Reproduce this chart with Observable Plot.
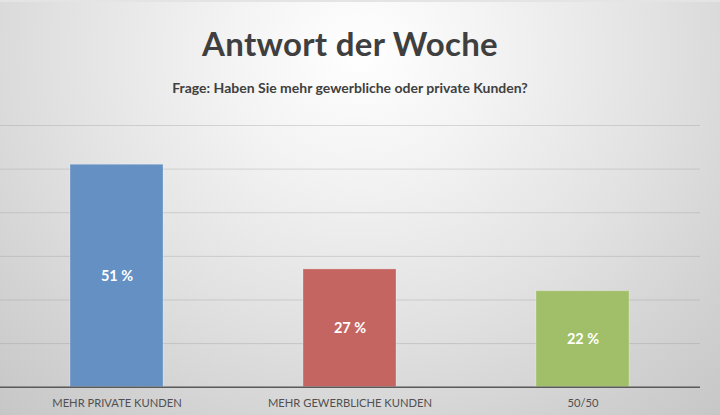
<!DOCTYPE html>
<html>
<head>
<meta charset="utf-8">
<script src="https://cdn.jsdelivr.net/npm/d3@7"></script>
<script src="https://cdn.jsdelivr.net/npm/@observablehq/plot@0.6"></script>
<style>
  html, body { margin: 0; padding: 0; }
  body { width: 720px; height: 415px; overflow: hidden; }
  #wrap {
    position: relative; width: 720px; height: 415px; box-sizing: border-box;
    background: radial-gradient(ellipse 75% 120% at 50% 12%, #ffffff 0%, #f3f3f3 25%, #e2e2e2 55%, #d2d2d2 80%, #c6c6c6 100%);
    border-top: 2px solid #e4e4e4;
    font-family: Lato, "Open Sans", sans-serif;
  }
  #title {
    position: absolute; left: 0; width: 700px; top: 22px; text-align: center;
    font-size: 33px; font-weight: 700; color: #3f3f3f; letter-spacing: 0.3px; line-height: 1.2;
  }
  #subtitle {
    position: absolute; left: 0; width: 700px; top: 78px; text-align: center;
    font-size: 14px; font-weight: 700; color: #404040; letter-spacing: 0px; line-height: 1.2;
  }
  #chart { position: absolute; left: 0; top: 108px; }
</style>
</head>
<body>
<div id="wrap">
  <div id="title">Antwort der Woche</div>
  <div id="subtitle">Frage: Haben Sie mehr gewerbliche oder private Kunden?</div>
  <div id="chart"></div>
</div>
<script>
const categories = ["MEHR PRIVATE KUNDEN", "MEHR GEWERBLICHE KUNDEN", "50/50"];
const values = [51, 27, 22];
const colors = ["#6490c4", "#c56562", "#a1bf68"];
const yTicks = [0, 10, 20, 30, 40, 50, 60];

const data = categories.map((c, i) => ({category: c, value: values[i], color: colors[i]}));

const chart = Plot.plot({
  width: 720,
  height: 305,
  marginTop: 15,
  marginBottom: 28.3,
  marginLeft: 0,
  marginRight: 20,
  style: {background: "transparent", fontFamily: "Lato, 'Open Sans', sans-serif", overflow: "visible"},
  x: {domain: categories, paddingInner: 0.6, paddingOuter: 0.3, label: null},
  y: {domain: [0, 60], axis: null},
  marks: [
    Plot.gridY(yTicks, {stroke: "#9a9a9a", strokeOpacity: 0.35, strokeWidth: 1}),
    Plot.barY(data, {x: "category", y: "value", fill: "color", stroke: "#ffffff", strokeOpacity: 0.25, strokeWidth: 1}),
    Plot.ruleY([0], {stroke: "#5a5a5a", strokeWidth: 1.5}),
    Plot.text(data, {x: "category", y: d => d.value / 2, text: d => `${d.value} %`, fill: "white", fontSize: 14.5, fontWeight: 700}),
    Plot.axisX({tickSize: 0, tickPadding: 12, fontSize: 11.2, color: "#505050", label: null})
  ]
});
document.getElementById("chart").appendChild(chart);
</script>
</body>
</html>
